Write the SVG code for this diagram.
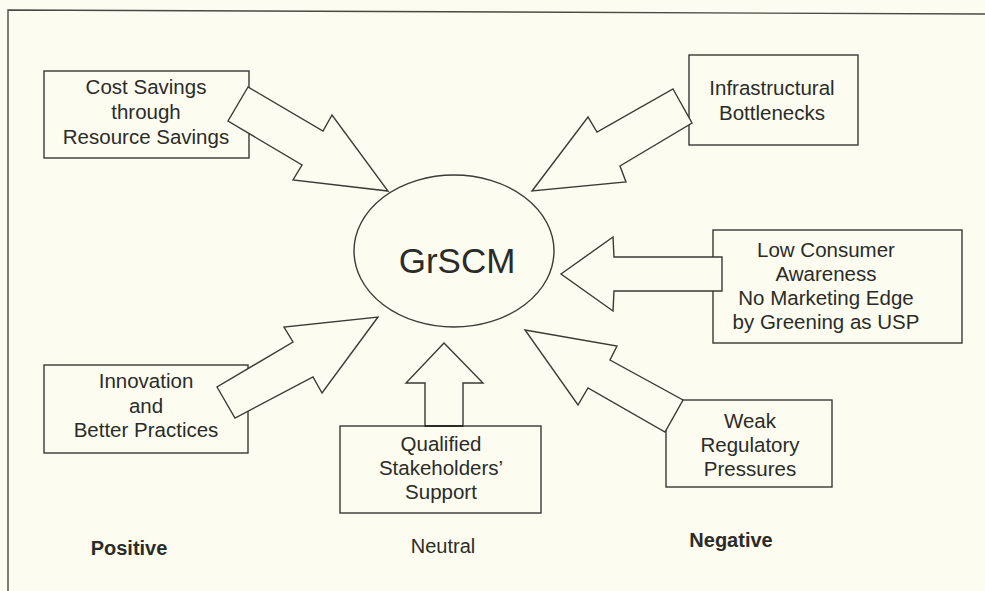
<svg xmlns="http://www.w3.org/2000/svg" width="985" height="591" viewBox="0 0 985 591">
  <style>
    .bg { fill: #fcfcf0; }
    .frame { fill: none; stroke: #4a4a44; stroke-width: 1.4; }
    .box { fill: #fcfcf0; stroke: #3a3a36; stroke-width: 1.4; }
    .arrow { fill: #fcfcf0; stroke: #3a3a36; stroke-width: 1.4; stroke-linejoin: miter; }
    .edge { fill: none; stroke: #2a2a26; stroke-width: 2; }
    text { font-family: "Liberation Sans", Arial, sans-serif; fill: #2b2b28; text-anchor: middle; }
    .t { font-size: 20.5px; }
    .hub { font-size: 35px; }
    .lbl { font-size: 20px; }
    .b { font-weight: bold; }
  </style>

  <rect class="bg" x="0" y="0" width="985" height="591"/>
  <!-- outer frame: left and top edges -->
  <path class="frame" d="M8,591 L8,10 L985,14"/>

  <!-- central hub -->
  <g id="hub">
    <ellipse class="box" cx="454" cy="251" rx="100" ry="76"/>
    <text class="hub" x="457" y="273">GrSCM</text>
  </g>

  <!-- factor boxes -->
  <g id="cost-savings">
    <rect class="box" x="44" y="71" width="205" height="87"/>
    <text class="t" x="146" y="94">Cost Savings</text>
    <text class="t" x="146" y="119">through</text>
    <text class="t" x="146" y="144">Resource Savings</text>
  </g>

  <g id="infrastructure">
    <rect class="box" x="689" y="55" width="169" height="90"/>
    <text class="t" x="772" y="95">Infrastructural</text>
    <text class="t" x="772" y="120">Bottlenecks</text>
  </g>

  <g id="consumer-awareness">
    <rect class="box" x="713" y="230" width="249" height="113"/>
    <text class="t" x="826" y="257">Low Consumer</text>
    <text class="t" x="826" y="281">Awareness</text>
    <text class="t" x="826" y="305">No Marketing Edge</text>
    <text class="t" x="826" y="329">by Greening as USP</text>
  </g>

  <g id="regulation">
    <rect class="box" x="666" y="400" width="166" height="87"/>
    <text class="t" x="750" y="428">Weak</text>
    <text class="t" x="750" y="452">Regulatory</text>
    <text class="t" x="750" y="476">Pressures</text>
  </g>

  <g id="stakeholders">
    <rect class="box" x="340" y="426" width="201" height="87"/>
    <text class="t" x="441" y="451">Qualified</text>
    <text class="t" x="441" y="475">Stakeholders’</text>
    <text class="t" x="441" y="499">Support</text>
  </g>

  <g id="innovation">
    <rect class="box" x="44" y="365" width="204" height="88"/>
    <text class="t" x="146" y="388">Innovation</text>
    <text class="t" x="146" y="413">and</text>
    <text class="t" x="146" y="437">Better Practices</text>
  </g>

  <!-- block arrows pointing at the hub -->
  <g id="connectors">
    <polygon class="arrow" points="248,87 228,121 302,165 293,180 388,191 332,115 323,131"/>
    <polygon class="arrow" points="673,89 692,123 620,166 626,182 532,191 588,117 597,132"/>
    <polygon class="arrow" points="561,274 613,237 614,257 722,257 722,291 614,291 613,311"/>
    <polygon class="arrow" points="525,330 617,346 610,360 683,400 665,432 588,388 578,405"/>
    <polygon class="arrow" points="444,343 483,383 463,383 463,426 425,426 425,383 406,383"/>
    <line class="edge" x1="425" y1="426" x2="463" y2="426"/>
    <polygon class="arrow" points="217,387 235,418 313,377 322,393 378,317 284,327 293,342"/>
  </g>

  <!-- category labels -->
  <g id="labels">
    <text class="lbl b" x="129" y="555">Positive</text>
    <text class="lbl" x="443" y="553">Neutral</text>
    <text class="lbl b" x="731" y="547">Negative</text>
  </g>
</svg>
